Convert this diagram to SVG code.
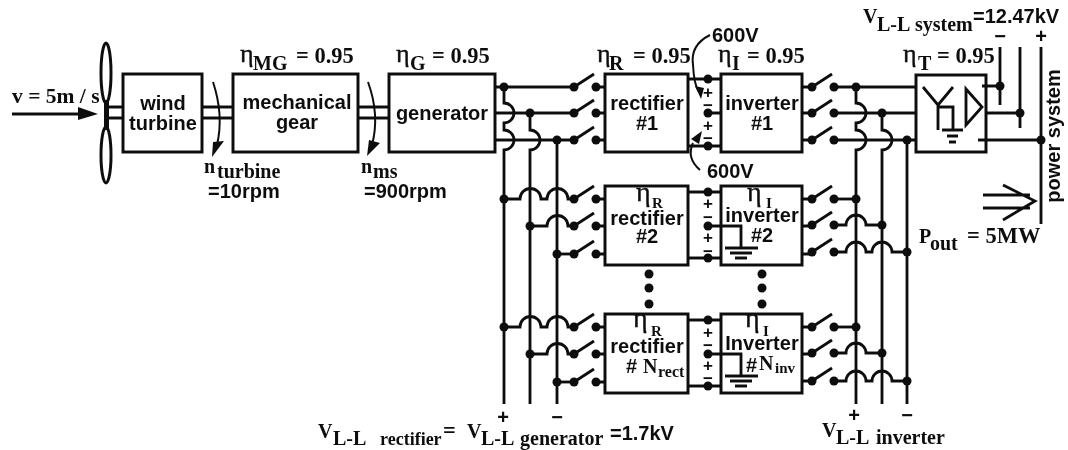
<svg xmlns="http://www.w3.org/2000/svg" xmlns:xlink="http://www.w3.org/1999/xlink" width="1068" height="450" viewBox="0 0 1068 450">
<style>
.box{fill:none;stroke:#111;stroke-width:3}
.w{fill:none;stroke:#111;stroke-width:2.8}
.t{fill:none;stroke:#111;stroke-width:2}
.d{fill:#111}
.ss{font:bold 20px "Liberation Sans",Arial,sans-serif;fill:#111}
.c{text-anchor:middle}
.sf{font:bold 22.5px "Liberation Serif","Times New Roman",serif;fill:#111}
.e{font:26px "Liberation Serif","Times New Roman",serif;fill:#111;stroke:#111;stroke-width:.4}
.ei{font:28px "Liberation Serif","Times New Roman",serif;fill:#111;stroke:#111;stroke-width:.4}
.sub{font:bold 20px "Liberation Serif","Times New Roman",serif;fill:#111}
.rc{font:bold 18px "Liberation Serif","Times New Roman",serif;fill:#111}
.sm{font:bold 15px "Liberation Serif","Times New Roman",serif;fill:#111}
.pm{font:bold 17px "Liberation Sans",Arial,sans-serif;fill:#111;text-anchor:middle}
.pl{font:bold 20px "Liberation Sans",Arial,sans-serif;fill:#111;text-anchor:middle}
</style>
<defs>
<filter id="soft" filterUnits="userSpaceOnUse" x="0" y="0" width="1068" height="450"><feGaussianBlur stdDeviation="0.5"/></filter>
<g id="swL"><circle class="d" cx="0" cy="0" r="4.5"/><path class="w" d="M0 0L20 -13"/><circle class="d" cx="22" cy="0" r="4.5"/></g>
<g id="gnd"><path class="w" d="M-16 0H17M-11 5H11M-6 10H6"/></g>
</defs>
<rect width="1068" height="450" fill="#fff"/>
<g filter="url(#soft)">
<g id="connectors">
<path class="w" d="M106 107H123M106 118H123M202 107H233M202 118H233M358 107H389M358 118H389"/>
<path class="w" d="M12 114H80"/><polygon class="d" points="78,107 98,114 78,120"/>
<path class="t" d="M213 82Q224 115 217 145"/><polygon class="d" points="212,157 213,142 224,141"/>
<path class="t" d="M368 82Q380 115 372 145"/><polygon class="d" points="367,156 369,140 380,143"/>

<path class="w" d="M495 87H574M495 113H574M495 140H574"/>
<path class="w" d="M504 87V103A10 10 0 0 1 504 123V130A10 10 0 0 1 504 150V404"/>
<path class="w" d="M530 113V130A10 10 0 0 1 530 150V404"/>
<path class="w" d="M557 140V404"/>
<path class="w" d="M504 199H520A10 10 0 0 1 541 199H547A10 10 0 0 1 568 199H574"/>
<path class="w" d="M530 226H547A10 10 0 0 1 568 226H574"/>
<path class="w" d="M557 254H574"/>
<path class="w" d="M504 327H520A10 10 0 0 1 541 327H547A10 10 0 0 1 568 327H574"/>
<path class="w" d="M530 354H547A10 10 0 0 1 568 354H574"/>
<path class="w" d="M557 382H574"/>
<path class="w" d="M596 87H605M596 113H605M596 140H605M596 199H605M596 226H605M596 254H605M596 327H605M596 354H605M596 382H605"/>

<path class="w" d="M688 79H721M708 113H721M688 146H721M688 192H721M688 258H721M688 320H721M688 386H721"/>
<path class="w" d="M708 226H741V248M708 354H741V376"/>
<path class="t" d="M710 35Q690 45 693 65Q694 85 699 92"/><polygon class="d" points="701,99 695,86 704,88"/>
<path class="t" d="M700 170Q686 158 693 143"/><polygon class="d" points="702,131 691,139 699,144"/>

<path class="w" d="M802 87H812M802 113H812M802 140H812M802 199H812M802 226H812M802 254H812M802 327H812M802 354H812M802 381H812"/>
<path class="w" d="M835 87H916M835 113H916M835 140H916"/>
<path class="w" d="M856 87V103A10 10 0 0 1 856 123V130A10 10 0 0 1 856 150V404"/>
<path class="w" d="M882 113V130A10 10 0 0 1 882 150V404"/>
<path class="w" d="M907 140V404"/>
<path class="w" d="M835 199H856"/>
<path class="w" d="M835 225H846A10 10 0 0 1 866 225H882"/>
<path class="w" d="M835 252H846A10 10 0 0 1 866 252H872A10 10 0 0 1 892 252H907"/>
<path class="w" d="M835 327H856"/>
<path class="w" d="M835 353H846A10 10 0 0 1 866 353H882"/>
<path class="w" d="M835 381H846A10 10 0 0 1 866 381H872A10 10 0 0 1 892 381H907"/>
<path class="w" d="M982 86H1000M986 113H1020M978 140H1041"/>
<path class="w" d="M1000 47V105M1020 47V128M1041 47V224"/>
<path class="w" d="M983 195H1030M983 208H1030M1003 185L1035 201L1003 220"/>
</g>

<g id="junctions">
<circle class="d" cx="504" cy="87" r="4.5"/><circle class="d" cx="530" cy="113" r="4.5"/><circle class="d" cx="557" cy="140" r="4.5"/>
<circle class="d" cx="504" cy="199" r="4.5"/><circle class="d" cx="530" cy="226" r="4.5"/><circle class="d" cx="557" cy="254" r="4.5"/>
<circle class="d" cx="504" cy="327" r="4.5"/><circle class="d" cx="530" cy="354" r="4.5"/><circle class="d" cx="557" cy="382" r="4.5"/>
<circle class="d" cx="856" cy="87" r="4.5"/><circle class="d" cx="882" cy="113" r="4.5"/><circle class="d" cx="907" cy="140" r="4.5"/>
<circle class="d" cx="856" cy="199" r="4.5"/><circle class="d" cx="882" cy="225" r="4.5"/><circle class="d" cx="907" cy="252" r="4.5"/>
<circle class="d" cx="856" cy="327" r="4.5"/><circle class="d" cx="882" cy="353" r="4.5"/><circle class="d" cx="907" cy="381" r="4.5"/>
<circle class="d" cx="1000" cy="86" r="4.5"/><circle class="d" cx="1020" cy="113" r="4.5"/><circle class="d" cx="1041" cy="140" r="4.5"/>
<circle class="d" cx="708" cy="79" r="4.5"/><circle class="d" cx="708" cy="113" r="4.5"/><circle class="d" cx="708" cy="146" r="4.5"/>
<circle class="d" cx="708" cy="192" r="4.5"/><circle class="d" cx="708" cy="226" r="4.5"/><circle class="d" cx="708" cy="258" r="4.5"/>
<circle class="d" cx="708" cy="320" r="4.5"/><circle class="d" cx="708" cy="354" r="4.5"/><circle class="d" cx="708" cy="386" r="4.5"/>
<circle class="d" cx="649" cy="274" r="4.5"/><circle class="d" cx="649" cy="288" r="4.5"/><circle class="d" cx="649" cy="304" r="4.5"/>
<circle class="d" cx="762" cy="274" r="4.5"/><circle class="d" cx="762" cy="288" r="4.5"/><circle class="d" cx="762" cy="304" r="4.5"/>
</g>

<g id="switches">
<use xlink:href="#swL" href="#swL" x="574" y="87"/><use xlink:href="#swL" href="#swL" x="574" y="113"/><use xlink:href="#swL" href="#swL" x="574" y="140"/>
<use xlink:href="#swL" href="#swL" x="574" y="199"/><use xlink:href="#swL" href="#swL" x="574" y="226"/><use xlink:href="#swL" href="#swL" x="574" y="254"/>
<use xlink:href="#swL" href="#swL" x="574" y="327"/><use xlink:href="#swL" href="#swL" x="574" y="354"/><use xlink:href="#swL" href="#swL" x="574" y="382"/>
<use xlink:href="#swL" href="#swL" x="812" y="87"/><use xlink:href="#swL" href="#swL" x="812" y="113"/><use xlink:href="#swL" href="#swL" x="812" y="140"/>
<use xlink:href="#swL" href="#swL" x="812" y="199"/><use xlink:href="#swL" href="#swL" x="812" y="225"/><use xlink:href="#swL" href="#swL" x="812" y="252"/>
<use xlink:href="#swL" href="#swL" x="812" y="327"/><use xlink:href="#swL" href="#swL" x="812" y="353"/><use xlink:href="#swL" href="#swL" x="812" y="381"/>
</g>

<g id="blades"><ellipse class="box" cx="106" cy="73" rx="5" ry="30"/><ellipse class="box" cx="106" cy="155" rx="5" ry="28"/><rect class="d" x="104" y="100" width="5" height="30"/></g>
<text class="sf" style="font-size:21.5px" x="12" y="103">v = 5m / s</text>

<g id="wind-turbine"><rect class="box" x="123" y="74" width="79" height="78"/><text class="ss c" x="163" y="110">wind</text><text class="ss c" x="163" y="130">turbine</text></g>
<g id="mechanical-gear"><rect class="box" x="233" y="74" width="125" height="78"/><text class="ss c" x="297" y="109">mechanical</text><text class="ss c" x="297" y="129">gear</text>
<text class="e" x="240" y="62">η</text><text class="sub" x="253" y="70">MG</text><text class="sf" x="296" y="63">= 0.95</text></g>
<g id="generator"><rect class="box" x="389" y="74" width="106" height="78"/><text class="ss c" x="442" y="120">generator</text>
<text class="e" x="396" y="62">η</text><text class="sub" x="410" y="70">G</text><text class="sf" x="432" y="63">= 0.95</text></g>

<g id="n-turbine"><text class="sub" x="204" y="173">n</text><text class="sub" x="217" y="178">turbine</text><text class="ss" x="208" y="198">=10rpm</text></g>
<g id="n-ms"><text class="sub" x="361" y="173">n</text><text class="sub" x="373" y="178">ms</text><text class="ss" x="364" y="198">=900rpm</text></g>

<g id="rectifier-1"><rect class="box" x="605" y="74" width="83" height="78"/><text class="ss c" x="647" y="110">rectifier</text><text class="ss c" x="647" y="130">#1</text>
<text class="e" x="597" y="62">η</text><text class="sub" x="609" y="70">R</text><text class="sf" x="633" y="63">= 0.95</text></g>
<g id="inverter-1"><rect class="box" x="721" y="74" width="81" height="78"/><text class="ss c" x="762" y="110">inverter</text><text class="ss c" x="762" y="130">#1</text>
<text class="e" x="718" y="62">η</text><text class="sub" x="732" y="70">I</text><text class="sf" x="747" y="63">= 0.95</text></g>

<g id="rectifier-2"><rect class="box" x="605" y="186" width="83" height="79"/><text class="ei" x="636" y="201">η</text><text class="sm" x="652" y="208">R</text><text class="ss c" x="647" y="225">rectifier</text><text class="ss c" x="647" y="243">#2</text></g>
<g id="inverter-2"><rect class="box" x="721" y="186" width="81" height="79"/><text class="ei" x="747" y="201">η</text><text class="sm" x="766" y="208">I</text><text class="ss c" x="762" y="222">inverter</text><text class="ss c" x="762" y="242">#2</text><use xlink:href="#gnd" href="#gnd" x="741" y="248"/></g>

<g id="rectifier-n"><rect class="box" x="605" y="314" width="83" height="79"/><text class="ei" x="633" y="327">η</text><text class="sm" x="651" y="336">R</text><text class="ss c" x="647" y="353">rectifier</text><text class="ss" x="626" y="373">#</text><text class="sub" x="643" y="373">N</text><text class="rc" style="font-size:16px" x="658" y="377">rect</text></g>
<g id="inverter-n"><rect class="box" x="721" y="314" width="81" height="79"/><text class="ei" x="745" y="327">η</text><text class="sm" x="763" y="336">I</text><text class="ss c" x="762" y="350">Inverter</text><text class="ss" x="746" y="372">#</text><text class="sub" x="759" y="370">N</text><text class="rc" style="font-size:15px" x="775" y="373">inv</text><use xlink:href="#gnd" href="#gnd" x="741" y="376"/></g>

<g id="transformer"><rect class="box" x="916" y="75" width="70" height="77"/>
<path class="w" d="M923 87L938 105L953 87M938 105V130M938 107H953V130"/>
<path class="w" d="M966 89V125L982 107Z"/>
<path class="w" d="M942 130H963M947 136H958M949 142H956"/>
<text class="e" x="903" y="62">η</text><text class="sub" x="918" y="70">T</text><text class="sf" x="937" y="63">= 0.95</text></g>

<g id="dc-signs">
<text class="pm" x="708" y="98">+</text><text class="pm" x="708" y="111">−</text><text class="pm" x="708" y="131">+</text><text class="pm" x="708" y="144">−</text>
<text class="pm" x="708" y="209">+</text><text class="pm" x="708" y="223">−</text><text class="pm" x="708" y="243">+</text><text class="pm" x="708" y="257">−</text>
<text class="pm" x="708" y="338">+</text><text class="pm" x="708" y="351">−</text><text class="pm" x="708" y="371">+</text><text class="pm" x="708" y="384">−</text>
</g>
<text class="ss" x="712" y="42">600V</text><text class="ss" x="707" y="178">600V</text>

<g id="system-label"><text class="sub" x="863" y="23">V</text><text class="sub" x="877" y="31">L-L</text><text class="sub" x="915" y="31">system</text><text class="ss" x="973" y="23">=12.47kV</text>
<text class="pl" x="1000" y="43">−</text><text class="pl" x="1041" y="43">+</text></g>
<text class="ss c" transform="translate(1060 136) rotate(-90)">power system</text>
<g id="pout"><text class="sub" x="919" y="243">P</text><text class="sub" x="930" y="250">out</text><text class="sf" x="967" y="243">= 5MW</text></g>

<g id="rectifier-label"><text class="pl" x="503" y="424">+</text><text class="pl" x="557" y="424">−</text>
<text class="sub" x="318" y="438">V</text><text class="sub" x="333" y="445">L-L</text><text class="rc" x="380" y="445">rectifier</text><text class="sf" x="443" y="438">=</text>
<text class="sub" x="467" y="438">V</text><text class="sub" x="481" y="445">L-L</text><text class="sub" x="520" y="445">generator</text><text class="ss" x="610" y="440">=1.7kV</text></g>
<g id="inverter-label"><text class="pl" x="854" y="422">+</text><text class="pl" x="907" y="422">−</text>
<text class="sub" x="822" y="437">V</text><text class="sub" x="836" y="444">L-L</text><text class="sub" x="876" y="444">inverter</text></g>
</g>
</svg>
